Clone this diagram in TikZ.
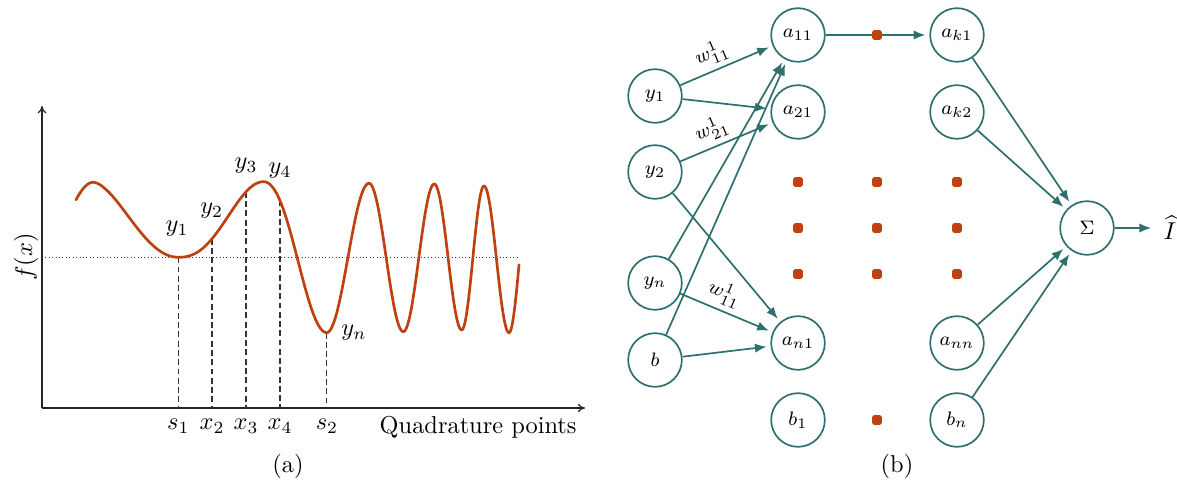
\documentclass[tikz,border=0pt]{standalone}
\usetikzlibrary{arrows.meta}
\definecolor{nnteal}{RGB}{47,112,110}
\definecolor{curveorange}{RGB}{190,65,15}
\begin{document}
\begin{tikzpicture}[x=0.41pt,y=-0.41pt,
  axisline/.style={line width=0.5pt, draw=black!85, -{To[length=3pt,width=3.5pt]}},
  dotline/.style={line width=0.4pt, draw=black!80, dash pattern=on 0.4pt off 1pt},
  dashline/.style={line width=0.45pt, draw=black!80, dash pattern=on 2.4pt off 1.4pt},
  curveline/.style={line width=1.1pt, draw=curveorange, line join=round, line cap=round},
  neuron/.style={circle, draw=nnteal, line width=0.7pt, minimum size=22pt, inner sep=0pt, font=\footnotesize},
  conn/.style={draw=nnteal, line width=0.7pt, -{Latex[length=4.8pt,width=3.8pt]}, shorten >=1.6pt},
  wlab/.style={font=\footnotesize, sloped, above, pos=0.41, inner sep=2pt},
  odot/.style={rectangle, fill=curveorange, minimum size=4pt, inner sep=0pt, rounded corners=0.8pt},
]
\useasboundingbox (0,0) rectangle (1177,481);

% ---------------- (a) ----------------
\coordinate (O) at (42,408);
\coordinate (ytop) at (42,106);
\coordinate (xend) at (585,408);
\draw[axisline] (O) -- (ytop);
\draw[axisline] (O) -- (xend);

\coordinate (dl) at (42,257);
\coordinate (dr) at (519,257);
\draw[dotline] (dl) -- (dr);

\coordinate (s1t) at (178.3,257.3); \coordinate (s1b) at (178.3,408);
\coordinate (x2t) at (212,238.8);   \coordinate (x2b) at (212,408);
\coordinate (x3t) at (246,191.9);   \coordinate (x3b) at (246,408);
\coordinate (x4t) at (280,200.6);   \coordinate (x4b) at (280,408);
\coordinate (s2t) at (326.7,332.7); \coordinate (s2b) at (326.7,408);
\draw[dashline] (s1t) -- (s1b);
\draw[dashline] (x2t) -- (x2b);
\draw[dashline] (x3t) -- (x3b);
\draw[dashline] (x4t) -- (x4b);
\draw[dashline] (s2t) -- (s2b);

\draw[curveline, variable=\t, samples=40]
  plot[domain=76:93.3] (\t,{219.65+37.35*cos(180*(\t-39.5)/53.8)})
  -- plot[domain=93.31:178.3] (\t,{219.8-37.5*cos(180*pow((\t-93.3)/85,0.85))})
  -- plot[domain=178.31:263.3] (\t,{219.5+37.8*cos(180*pow((\t-178.3)/85,1.2))})
  -- plot[domain=263.31:326.7] (\t,{257.2-75.5*cos(180*pow((\t-263.3)/63.4,1.1))})
  -- plot[domain=326.7:369] (\t,{258+74.7*cos(180*(\t-326.7)/42.3)})
  -- plot[domain=369:403.3] (\t,{257.5-74.2*cos(180*(\t-369)/34.3)})
  -- plot[domain=403.3:434.3] (\t,{257.85+73.85*cos(180*(\t-403.3)/31)})
  -- plot[domain=434.3:461.7] (\t,{257-73*cos(180*(\t-434.3)/27.4)})
  -- plot[domain=461.7:484] (\t,{258+72*cos(180*(\t-461.7)/22.3)})
  -- plot[domain=484:509] (\t,{259.35-73.35*cos(180*(\t-484)/25)})
  -- plot[domain=509:519] (\t,{259.35+73.35*cos(180*(\t-509)/21)});

\node (ly1) at (177,229) {$y_1$};
\node (ly2) at (211.7,211) {$y_2$};
\node (ly3) at (246,166) {$y_3$};
\node (ly4) at (280,171) {$y_4$};
\node (lyn) at (354,333) {$y_n$};

\node[anchor=base] (ls1) at (178.3,430) {$s_1$};
\node[anchor=base] (lx2) at (212,430) {$x_2$};
\node[anchor=base] (lx3) at (246,430) {$x_3$};
\node[anchor=base] (lx4) at (280,430) {$x_4$};
\node[anchor=base] (ls2) at (327,430) {$s_2$};
\node[anchor=base east, inner sep=0pt] (qp) at (577,434) {Quadrature points};
\node[rotate=90] (fx) at (26,257) {$f(x)$};
\node (capa) at (288,466) {(a)};

% ---------------- (b) ----------------
\node[neuron] (y1) at (655,96) {$y_1$};
\node[neuron] (y2) at (655,172) {$y_2$};
\node[neuron] (yn) at (655,283) {$y_n$};
\node[neuron] (b) at (655,360) {$b$};

\node[neuron] (a11) at (798,35) {$a_{11}$};
\node[neuron] (a21) at (798,112) {$a_{21}$};
\node[neuron] (an1) at (798,343) {$a_{n1}$};
\node[neuron] (b1) at (798,420) {$b_1$};

\node[neuron] (ak1) at (957,35) {$a_{k1}$};
\node[neuron] (ak2) at (957,112) {$a_{k2}$};
\node[neuron] (ann) at (957,343) {$a_{nn}$};
\node[neuron] (bn) at (957,420) {$b_n$};

\node[neuron] (sig) at (1087,228) {$\Sigma$};
\node (Ihat) at (1170,228) {$\widehat{I}$};

\draw[conn] (y1) -- node[wlab] (w1) {$w^1_{11}$} (a11);
\draw[conn] (y1) -- (a21);
\draw[conn] (y2) -- node[wlab] (w2) {$w^1_{21}$} (a21);
\draw[conn] (y2) -- (an1);
\draw[conn] (yn) -- (a11);
\draw[conn] (b) -- (a11);
\draw[conn] (yn) -- node[wlab] (w3) {$w^1_{11}$} (an1);
\draw[conn] (b) -- (an1);
\draw[conn] (a11) -- (ak1);
\draw[conn] (ak1) -- (sig);
\draw[conn] (ak2) -- (sig);
\draw[conn] (ann) -- (sig);
\draw[conn] (bn) -- (sig);
\draw[conn] (sig) -- (Ihat);

\node[odot] (d1) at (877,35) {};
\node[odot] (d2) at (798,182) {};
\node[odot] (d3) at (877,182) {};
\node[odot] (d4) at (957,182) {};
\node[odot] (d5) at (798,228) {};
\node[odot] (d6) at (877,228) {};
\node[odot] (d7) at (957,228) {};
\node[odot] (d8) at (798,274) {};
\node[odot] (d9) at (877,274) {};
\node[odot] (d10) at (957,274) {};
\node[odot] (d11) at (877,420) {};

\node (capb) at (897,466) {(b)};
\end{tikzpicture}
\end{document}
